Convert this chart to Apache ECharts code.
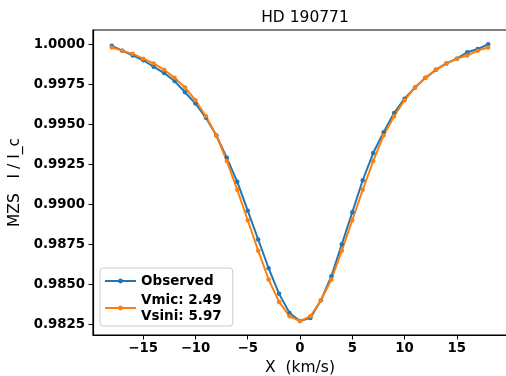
<!DOCTYPE html>
<html>
<head>
<meta charset="utf-8">
<script src="https://cdn.jsdelivr.net/npm/echarts@6/dist/echarts.min.js"></script>
<style>
  html, body { margin: 0; padding: 0; background: #fff; }
  #chart { width: 506px; height: 376px; }
</style>
</head>
<body>
<div id="chart"></div>
<script>
// velocity grid (km/s)
var velocity = [-18, -17, -16, -15, -14, -13, -12, -11, -10, -9, -8, -7, -6, -5, -4, -3, -2, -1,
  0, 1, 2, 3, 4, 5, 6, 7, 8, 9, 10, 11, 12, 13, 14, 15, 16, 17, 18];
// observed MZS profile
var observed = [0.9999, 0.9996, 0.9993, 0.9990, 0.9986, 0.9982, 0.9977, 0.9970, 0.9963, 0.9954,
  0.9943, 0.9929, 0.9914, 0.9896, 0.9878, 0.9860, 0.9844, 0.9832, 0.9827, 0.9829,
  0.9840, 0.9855, 0.9875, 0.9895, 0.9915, 0.9932, 0.9945, 0.9957, 0.9966, 0.9973,
  0.9979, 0.9984, 0.9988, 0.9991, 0.9995, 0.9997, 1.0000];
// fitted model profile
var model = [0.9998, 0.9996, 0.9994, 0.9991, 0.9988, 0.9984, 0.9979, 0.9973, 0.9965, 0.9955,
  0.9943, 0.9927, 0.9909, 0.9890, 0.9871, 0.9853, 0.9839, 0.9830, 0.9827, 0.9830,
  0.9840, 0.9853, 0.9871, 0.9890, 0.9909, 0.9927, 0.9943, 0.9955, 0.9965, 0.9973,
  0.9979, 0.9984, 0.9988, 0.9991, 0.9993, 0.9996, 0.9998];
var xTicks = [-15, -10, -5, 0, 5, 10, 15];
var yTicks = [0.9825, 0.9850, 0.9875, 0.9900, 0.9925, 0.9950, 0.9975, 1.0000];
var modelName = 'Vmic: 2.49\nVsini: 5.97';

function pairs(xs, ys) {
    var out = [];
    for (var i = 0; i < xs.length; i++) {
        out.push([xs[i], ys[i]]);
    }
    return out;
}

var font = 'DejaVu Sans';
var chart = echarts.init(document.getElementById('chart'));
var option = {
    animation: false,
    backgroundColor: '#fff',
    title: {
        text: 'HD 190771',
        left: 300,
        textAlign: 'center',
        top: 5,
        textStyle: { fontFamily: font, fontSize: 15.5, fontWeight: 'normal', color: '#000' }
    },
    grid: {
        left: 93, top: 30, width: 414, height: 305,
        outerBoundsMode: 'none',
        containLabel: false,
        show: true, borderColor: '#000', borderWidth: 1.2, backgroundColor: '#fff'
    },
    legend: {
        orient: 'vertical',
        left: 100, top: 268,
        padding: [5, 11, 2, 4],
        itemGap: 3,
        itemWidth: 31, itemHeight: 6,
        borderColor: '#ccc', borderWidth: 1, borderRadius: 3,
        backgroundColor: 'rgba(255,255,255,0.8)',
        textStyle: { fontFamily: font, fontSize: 13.5, fontWeight: 'bold', color: '#000', lineHeight: 16 },
        data: ['Observed', modelName]
    },
    xAxis: {
        type: 'value',
        min: -19.8, max: 19.8,
        name: 'X  (km/s)',
        nameLocation: 'middle',
        nameGap: 24,
        nameTextStyle: { fontFamily: font, fontSize: 15.5, color: '#000' },
        splitLine: { show: false },
        axisLine: { onZero: false, lineStyle: { color: '#000', width: 1.2 } },
        axisTick: { customValues: xTicks, length: 4.5, lineStyle: { color: '#000', width: 1 } },
        axisLabel: {
            customValues: xTicks, margin: 7,
            fontFamily: font, fontSize: 13.3, fontWeight: 'bold', color: '#000',
            formatter: function (v) { return v < 0 ? '\u2212' + Math.abs(v) : String(v); }
        }
    },
    yAxis: {
        type: 'value',
        min: 0.98183, max: 1.00089,
        name: 'MZS   I / I_c',
        nameLocation: 'middle',
        nameGap: 59,
        nameTextStyle: { fontFamily: font, fontSize: 15.5, color: '#000' },
        splitLine: { show: false },
        axisLine: { onZero: false, lineStyle: { color: '#000', width: 1.2 } },
        axisTick: { customValues: yTicks, length: 4.5, lineStyle: { color: '#000', width: 1 } },
        axisLabel: {
            customValues: yTicks, margin: 8,
            fontFamily: font, fontSize: 13.3, fontWeight: 'bold', color: '#000',
            formatter: function (v) { return v.toFixed(4); }
        }
    },
    series: [
        {
            name: 'Observed',
            type: 'line',
            data: pairs(velocity, observed),
            symbol: 'circle', symbolSize: 4.5,
            itemStyle: { color: '#1f77b4' },
            lineStyle: { color: '#1f77b4', width: 2 }
        },
        {
            name: modelName,
            type: 'line',
            data: pairs(velocity, model),
            symbol: 'circle', symbolSize: 4.5,
            itemStyle: { color: '#ff7f0e' },
            lineStyle: { color: '#ff7f0e', width: 2 }
        }
    ]
};
chart.setOption(option);
</script>
</body>
</html>
